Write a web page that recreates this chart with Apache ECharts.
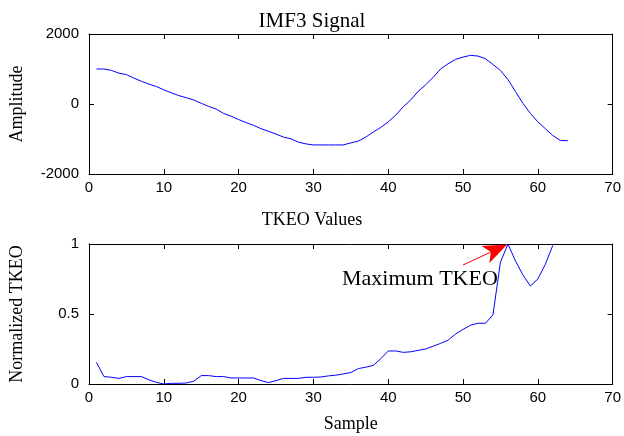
<!DOCTYPE html>
<html><head><meta charset="utf-8">
<script src="https://cdn.jsdelivr.net/npm/echarts@6/dist/echarts.min.js"></script>
<style>html,body{margin:0;padding:0;background:#fff}#c{width:624px;height:436px}</style>
</head><body><div id="c"></div>
<script>
const samples = Array.from({length: 64}, (_, i) => i + 1);
const imf3 = [1000,1000,960,880,840,740,650,570,500,405,320,240,180,115,20,-70,-145,-270,-350,-445,-530,-610,-705,-780,-860,-945,-995,-1090,-1140,-1170,-1170,-1170,-1170,-1170,-1110,-1060,-945,-800,-670,-510,-320,-80,115,360,550,760,1000,1150,1275,1340,1390,1370,1295,1130,957,700,360,20,-270,-510,-705,-900,-1040,-1050];
const tkeo = [0.154,0.053,0.048,0.04,0.053,0.053,0.053,0.03,0.012,0.0,0.005,0.005,0.007,0.02,0.06,0.06,0.053,0.053,0.043,0.043,0.043,0.043,0.024,0.01,0.024,0.04,0.04,0.04,0.048,0.048,0.05,0.058,0.063,0.072,0.082,0.11,0.12,0.133,0.18,0.236,0.236,0.226,0.23,0.24,0.25,0.27,0.29,0.313,0.357,0.39,0.42,0.434,0.434,0.494,0.87,1.0,0.88,0.78,0.70,0.75,0.855,0.99];
const xTicks = [0,10,20,30,40,50,60,70];
const ampTicks = [-2000,0,2000];
const tkeoTicks = [0,0.5,1];
const titles = ['IMF3 Signal','TKEO Values'];
const yNames = ['Amplitude','Normalized TKEO'];
const xName = 'Sample';
const annText = 'Maximum TKEO';
const arrowFrom = [50.0, 0.85];
const arrowTo = [55.9, 0.997];

const serif = 'Liberation Serif';
const sans = 'Liberation Sans';
const grids = [
  {left: 87, right: 10, top: 34, height: 140},
  {left: 87, right: 10, top: 244, height: 140}
];
function xAxisPair(gi, showName) {
  const base = {
    type: 'value', gridIndex: gi, min: xTicks[0], max: xTicks[xTicks.length - 1], interval: xTicks[1] - xTicks[0],
    axisLine: {show: true, onZero: false, lineStyle: {color: '#000', width: 1}},
    axisTick: {show: true, inside: true, length: 5, lineStyle: {color: '#000'}},
    splitLine: {show: false}
  };
  return [
    Object.assign({}, base, {position: 'bottom',
      axisLabel: {show: true, color: '#000', fontFamily: sans, fontSize: 15, margin: 6, formatter: v => String(v)},
      name: showName ? xName : '', nameLocation: 'middle', nameGap: 31,
      nameTextStyle: {fontFamily: serif, fontSize: 18, color: '#000'}}),
    Object.assign({}, base, {position: 'top', axisLabel: {show: false}})
  ];
}
function yAxisPair(gi, ticks, name) {
  const base = {
    type: 'value', gridIndex: gi, min: ticks[0], max: ticks[ticks.length - 1], interval: ticks[1] - ticks[0],
    axisLine: {show: true, onZero: false, lineStyle: {color: '#000', width: 1}},
    axisTick: {show: true, inside: true, length: 5, lineStyle: {color: '#000'}},
    splitLine: {show: false}
  };
  return [
    Object.assign({}, base, {position: 'left',
      axisLabel: {show: true, color: '#000', fontFamily: sans, fontSize: 15, margin: 10, formatter: v => String(v)},
      name: name, nameLocation: 'middle', nameGap: 63,
      nameTextStyle: {fontFamily: serif, fontSize: 18, color: '#000'}}),
    Object.assign({}, base, {position: 'right', axisLabel: {show: false}})
  ];
}
const chart = echarts.init(document.getElementById('c'), null, {renderer: 'canvas'});
chart.setOption({
  animation: false,
  backgroundColor: '#fff',
  title: [
    {text: titles[0], left: 'center', top: 6, textStyle: {fontFamily: serif, fontSize: 21, fontWeight: 'normal', color: '#000'}},
    {text: titles[1], left: 'center', top: 206, textStyle: {fontFamily: serif, fontSize: 18, fontWeight: 'normal', color: '#000'}}
  ],
  grid: grids,
  xAxis: [...xAxisPair(0, false), ...xAxisPair(1, true)],
  yAxis: [...yAxisPair(0, ampTicks, yNames[0]), ...yAxisPair(1, tkeoTicks, yNames[1])],
  series: [
    {type: 'line', xAxisIndex: 0, yAxisIndex: 0, data: samples.map((s, i) => [s, imf3[i]]),
     showSymbol: false, lineStyle: {color: '#0000ff', width: 1}, silent: true},
    {type: 'line', xAxisIndex: 2, yAxisIndex: 2, data: tkeo.map((v, i) => [samples[i], v]),
     showSymbol: false, lineStyle: {color: '#0000ff', width: 1}, silent: true,
     markLine: {silent: true, symbol: ['none', 'arrow'], symbolSize: [14, 24],
       lineStyle: {color: '#ff0000', width: 1, type: 'solid'}, label: {show: false},
       data: [[{coord: arrowFrom}, {coord: arrowTo}]]}}
  ],
  graphic: [
    {type: 'text', left: 342, top: 268, style: {text: annText, font: '22px "Liberation Serif"', fill: '#000'}}
  ]
});
</script></body></html>
